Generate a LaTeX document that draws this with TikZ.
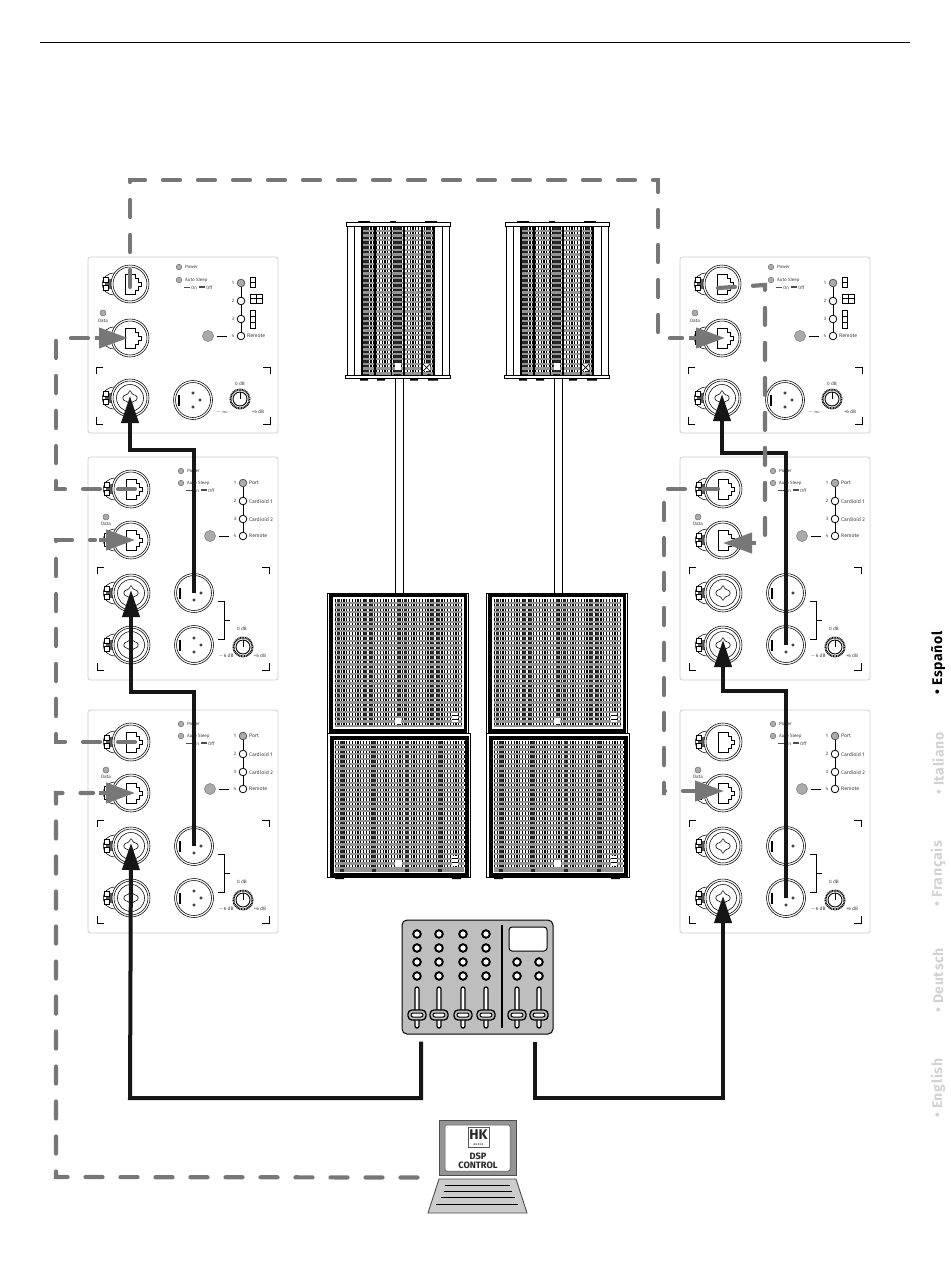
\documentclass[tikz,border=0pt]{standalone}
\usepackage{fontspec}
\setmainfont{Fira Sans}
\usetikzlibrary{arrows.meta,calc}
\definecolor{wireG}{HTML}{777777}
\definecolor{wireK}{HTML}{161616}
\definecolor{ledG}{HTML}{ABABAB}
\definecolor{mixG}{HTML}{BEBEBE}
\definecolor{sideG}{HTML}{D2D2D2}
\tikzset{
  x=1pt,y=-1pt,
  plate/.style={draw=black!20,line width=.8pt,fill=white,rounded corners=2.5pt},
  thinl/.style={draw=black,line width=.55pt},
  medl/.style={draw=black,line width=.9pt},
  lbl/.style={font=\fontsize{4.6}{5}\selectfont,inner sep=0pt,anchor=west,text=black!75},
  slbl/.style={font=\fontsize{5.2}{5.5}\selectfont,inner sep=0pt,anchor=west,text=black!75},
  clbl/.style={font=\fontsize{4.8}{5}\selectfont,inner sep=0pt,anchor=center,text=black!75},
  led/.style={draw=black!55,line width=.5pt,fill=ledG},
  blackwire/.style={draw=wireK,line width=4pt,-{Triangle[length=27pt,width=17pt]}},
  graywire/.style={draw=wireG,line width=4.2pt,line cap=round,dash pattern=on 17pt off 18pt},
  grayhead/.style={draw=wireG,line width=4.2pt,-{Triangle[length=29pt,width=20pt]}},
  side/.style={font=\bfseries\fontsize{14}{14}\addfontfeature{LetterSpace=5}\selectfont,rotate=90,inner sep=0pt,anchor=west,text=sideG},
}
% latch
\newcommand{\latch}[2]{%
  \draw[thinl,fill=white] (#1-15,#2-11) .. controls (#1-32,#2-11) and (#1-32,#2+11) .. (#1-15,#2+11);
  \fill[black!65] (#1-25,#2-5) rectangle (#1-17,#2+5);
  \draw[thinl,fill=white] (#1-27,#2-6.5) rectangle (#1-22,#2-1.5);
  \draw[thinl,fill=white] (#1-27,#2+1.5) rectangle (#1-22,#2+6.5);
}
\newcommand{\ringsC}[2]{%
  \draw[thinl,fill=white] (#1,#2) circle (19);
  \draw[thinl] (#1,#2) circle (17);
}
\newcommand{\etherC}[3]{%
  \latch{#2}{#3}\ringsC{#2}{#3}
  \coordinate (#1) at (#2,#3);
  \begin{scope}[shift={(#2,#3)}]
    \draw[thinl] (-5,-10)--(5,-10)--(5,-6)--(8,-6)--(8,-2)--(11,-2)--(11,2)--(8,2)--(8,6)--(5,6)--(5,10)--(-5,10)--cycle;
  \end{scope}
}
\newcommand{\comboC}[3]{%
  \latch{#2}{#3}\ringsC{#2}{#3}
  \coordinate (#1) at (#2,#3);
  \begin{scope}[shift={(#2,#3)}]
    \draw[thinl] (0,0) circle (13.5);
    \draw[thinl,rounded corners=1pt] (0,-8)--(2,-4)--(7,-2)--(7,2)--(2,4)--(0,8)--(-2,4)--(-7,2)--(-7,-2)--(-2,-4)--cycle;
  \end{scope}
}
\newcommand{\xlrMale}[3]{%
  \coordinate (#1) at (#2,#3);
  \draw[thinl,fill=white] (#2,#3) circle (19.5);
  \draw[thinl] (#2,#3) circle (17.5);
  \begin{scope}[shift={(#2,#3)}]
    \draw[thinl,fill=white] (-15,-5) rectangle (-13.5,5);
    \draw[thinl] (0,-7) circle (1.2) (7,0) circle (1.2) (0,7) circle (1.2);
  \end{scope}
}
\newcommand{\knobC}[2]{%
  \draw[draw=black,line width=2pt,dash pattern=on .9pt off .7pt] (#1,#2) circle (9.5);
  \draw[medl,fill=white] (#1,#2) circle (7);
  \draw[thinl] (#1,#2-7)--(#1,#2);
}
\newcommand{\selector}[2]{% x of circles, name
  \draw[medl] (#1,26)--(#1,79);
  \draw[led,draw=black!70,line width=.7pt] (#1,26) circle (3.8);
  \draw[thinl,line width=.8pt,fill=white] (#1,44) circle (3.8);
  \draw[thinl,line width=.8pt,fill=white] (#1,62) circle (3.8);
  \draw[thinl,line width=.8pt,fill=white] (#1,79) circle (3.8);
  \draw[led] (#1-33,79) circle (5.5);
  \draw[medl] (#1-24,79)--(#1-14,79);
  \node[clbl] (#2-n1) at (#1-8,26) {1};
  \node[clbl] (#2-n2) at (#1-8,44) {2};
  \node[clbl] (#2-n3) at (#1-8,62) {3};
  \node[clbl] (#2-n4) at (#1-8,79) {4};
  \node[slbl] (#2-rem) at (#1+6,79) {Remote};
}
\newcommand{\onoff}[3]{%
  \fill[black!70] (#2,#3-1.5) rectangle ++(6,1.6);
  \node[lbl] (#1-on) at (#2+7,#3) {On};
  \fill[black!70] (#2+15,#3-2) rectangle ++(6,1.6);
  \node[lbl] (#1-off) at (#2+22,#3) {Off};
}
\newcommand{\panelA}[3]{%
  \begin{scope}[shift={(#2,#3)}]
    \draw[plate] (0,0) rectangle (190,176);
    \etherC{#1-e1}{42}{27}
    \etherC{#1-e2}{42}{81}
    \comboC{#1-c1}{42}{141}
    \xlrMale{#1-x1}{105}{143}
    \knobC{152}{142}
    \draw[led] (91,10) circle (2.8);
    \draw[led] (91,23) circle (2.8);
    \draw[led] (15,56) circle (3);
    \node[lbl] (#1-pow) at (97,10) {Power};
    \node[lbl] (#1-auto) at (97,23) {Auto Sleep};
    \onoff{#1}{96}{31}
    \node[clbl] (#1-data) at (15,64) {Data};
    \selector{153}{#1}
    \draw[thinl,line width=.9pt] (162,20) rectangle (167,25) (162,25) rectangle (167,30);
    \draw[thinl,line width=.9pt] (162,37) rectangle (168,41.5) (162,41.5) rectangle (168,46) (168,37) rectangle (174,41.5) (168,41.5) rectangle (174,46);
    \draw[thinl,line width=.9pt] (162,53) rectangle (167,59) (162,59) rectangle (167,65) (162,65) rectangle (167,71);
    \draw[medl] (8,117)--(8,110)--(15,110);
    \draw[medl] (182,117)--(182,110)--(175,110);
    \draw[medl] (8,160)--(8,167)--(15,167);
    \draw[medl] (182,160)--(182,167)--(175,167);
    \node[clbl] (#1-k0) at (152,127) {0 dB};
    \node[clbl] (#1-k1) at (134,155) {$-\infty$};
    \node[clbl] (#1-k2) at (170,155) {+6 dB};
  \end{scope}
}
\newcommand{\panelB}[3]{%
  \begin{scope}[shift={(#2,#3)}]
    \draw[plate] (0,0) rectangle (190,223);
    \etherC{#1-e1}{43}{32}
    \etherC{#1-e2}{43}{83}
    \comboC{#1-c1}{43}{136}
    \comboC{#1-c2}{43}{188}
    \xlrMale{#1-x1}{106}{136}
    \xlrMale{#1-x2}{106}{188}
    \knobC{155}{190}
    \draw[led] (93,14) circle (2.8);
    \draw[led] (93,26) circle (2.8);
    \draw[led] (18,60) circle (3);
    \node[lbl] (#1-pow) at (99,14) {Power};
    \node[lbl] (#1-auto) at (99,26) {Auto Sleep};
    \onoff{#1}{98}{34}
    \node[clbl] (#1-data) at (18,67) {Data};
    \selector{155}{#1}
    \node[slbl] (#1-t1) at (161,26) {Port};
    \node[slbl] (#1-t2) at (161,44) {Cardioid 1};
    \node[slbl] (#1-t3) at (161,62) {Cardioid 2};
    \draw[medl] (9,117)--(9,110)--(16,110);
    \draw[medl] (181,117)--(181,110)--(174,110);
    \draw[medl] (9,206)--(9,213)--(16,213);
    \draw[medl] (181,206)--(181,213)--(174,213);
    \draw[medl] (130,144)--(136,144)--(136,182)--(130,182) (136,163)--(142,163);
    \node[clbl] (#1-k0) at (154,172) {0 dB};
    \node[clbl] (#1-k1) at (138,199) {$-$6 dB};
    \node[clbl] (#1-k2) at (172,199) {+6 dB};
  \end{scope}
}
% grille: x0 y0 x1 y1
\newcommand{\rowsG}[4]{%
  \fill[black!42] (#1,#2) rectangle (#3,#4);
  \pgfmathsetmacro{\rowsN}{int((#4-#2-3)/4.75)}
  \foreach \r in {0,...,\rowsN}{
    \pgfmathsetmacro{\ry}{#2+1.3+\r*4.75}
    \draw[white,line width=2.5pt] (#1,\ry)--(#3,\ry);
    \draw[black,line width=2.5pt,dash pattern=on 1.1pt off 1.7pt] (#1,\ry)--(#3,\ry);
  }
}
\newcommand{\colG}[4]{% x, y0, y1, width
  \draw[black!85,line width=#4pt,dash pattern=on 2.5pt off 2.25pt] (#1,#2)--(#1,#3);
}
\newcommand{\subTop}[1]{%
  \begin{scope}[shift={(#1,0)}]
    \draw[black,line width=.7pt] (327,593) rectangle (468,733);
    \fill[white] (332,597) rectangle (464,729);
    \rowsG{335}{599}{462}{727}
    \colG{338}{599}{727}{3}\colG{365}{599}{727}{3}\colG{371}{599}{727}{3}\colG{398}{599}{727}{3}\colG{405}{599}{727}{3}\colG{432}{599}{727}{3}\colG{438}{599}{727}{3}
    \draw[black,line width=3.6pt] (331,595.5) rectangle (465.5,731);
    \fill[white] (395,718) rectangle (401,724);
    \fill[white] (452,713) rectangle (458,722);
    \draw[black,line width=.9pt] (452,715.5)--(458,715.5) (452,719)--(458,719);
  \end{scope}
}
\newcommand{\subLow}[1]{%
  \begin{scope}[shift={(#1,0)}]
    \draw[black,line width=.7pt] (327,733) rectangle (470,877);
    \fill[white] (333,739) rectangle (466,874);
    \rowsG{335}{741}{464}{872}
    \colG{342}{741}{872}{3.5}\colG{374}{741}{872}{3.5}\colG{407}{741}{872}{3.5}\colG{440}{741}{872}{3.5}
    \draw[black,line width=3.6pt] (332,737.8) rectangle (467,875);
    \fill[white] (395,860) rectangle (402,867);
    \fill[white] (452,856) rectangle (458,866);
    \draw[black,line width=.9pt] (452,858.5)--(458,858.5) (452,862.5)--(458,862.5);
    \fill[black] (335,877) rectangle (344,879) (452,877) rectangle (461,879);
  \end{scope}
}
\newcommand{\topSpk}[1]{%
  \begin{scope}[shift={(#1,0)}]
    \draw[medl] (395.5,378)--(395.5,594) (403,378)--(403,594);
    \rowsG{362}{227}{434}{375}
    \colG{366}{227}{375}{6}\colG{397.5}{227}{375}{7}\colG{429}{227}{375}{4}
    \draw[black,line width=1.8pt] (375,227)--(375,375) (391.5,227)--(391.5,375) (404,227)--(404,375) (422,227)--(422,375);
    \draw[black,line width=1.4pt] (362,227)--(362,375) (434,227)--(434,375);
    \draw[medl] (347,227)--(347,375) (354,227)--(354,375) (442,227)--(442,375) (449,227)--(449,375);
    \draw[medl,fill=white] (346,222.5) rectangle (450,226);
    \draw[medl,fill=white] (345.5,375.5) rectangle (450.5,378.5);
    \fill[black] (358,221) rectangle (370,222.5) (390,221) rectangle (396,222.5) (425,221) rectangle (437,222.5);
    \fill[black] (360,378.5) rectangle (368,380.5) (377,378.5) rectangle (385,380.5) (410,378.5) rectangle (418,380.5) (428,378.5) rectangle (438,380.5);
    \fill[white] (394.5,363) rectangle (401,370);
    \fill[white] (423,364) rectangle (430,371);
    \draw[black,line width=.7pt] (423,364)--(430,371) (423,371)--(430,364);
  \end{scope}
}
\begin{document}
\begin{tikzpicture}
\useasboundingbox (0,0) rectangle (950,1279);
\fill[white] (0,0) rectangle (950,1279);
\draw[black,line width=1pt] (40,43)--(910,43);
% panels
\panelA{La}{88}{257}
\panelB{Lb}{88}{457}
\panelB{Lc}{88}{710}
\panelA{Ra}{680}{257}
\panelB{Rb}{680}{457}
\panelB{Rc}{680}{710}
% speakers
\topSpk{0}
\topSpk{159}
\subTop{0}
\subTop{159}
\subLow{0}
\subLow{159}
% mixer
\node[draw=black,line width=1pt,fill=mixG,rounded corners=5pt,minimum width=151pt,minimum height=114pt,inner sep=0pt] (mixer) at (477.5,977) {};
\foreach \kx in {417,439,463,486}{
  \foreach \ky in {934,948,962,976}{
    \draw[black,line width=1.9pt,fill=white] (\kx,\ky) circle (3.8);
  }
}
\foreach \kx in {517,539}{
  \foreach \ky in {962,976}{
    \draw[black,line width=1.9pt,fill=white] (\kx,\ky) circle (3.8);
  }
}
\draw[black,line width=2.6pt] (502,925)--(502,1028);
\draw[black,line width=1pt,fill=white,rounded corners=3pt] (509,927) rectangle (547,951);
\foreach \fx in {417,439,463,486,517,539}{
  \draw[black,line width=1.3pt,fill=white,rounded corners=2pt] (\fx-2,987) rectangle (\fx+2,1028);
  \draw[black,line width=1.3pt,fill=mixG,rounded corners=4pt] (\fx-9,1010) rectangle (\fx+9,1020);
  \draw[black,line width=1pt,fill=white,rounded corners=2pt] (\fx-6,1013) rectangle (\fx+6,1017);
}
% laptop
\node[draw=black!70,line width=1pt,fill=black!42,minimum width=77pt,minimum height=55pt,inner sep=0pt] (screen) at (477.5,1147.5) {};
\node[draw=black!70,line width=.5pt,fill=white,rounded corners=2pt,minimum width=65pt,minimum height=46pt,inner sep=0pt] (pane) at (477.5,1148) {};
\node[draw=black!65,line width=.6pt,minimum width=21pt,minimum height=20pt,inner sep=0pt] (logobox) at (478.5,1137) {};
\node[inner sep=0pt,font=\bfseries\fontsize{14}{14}\selectfont,text=black!85] (hk) at (478.5,1135) {HK};
\node[inner sep=0pt,font=\bfseries\fontsize{2.6}{3}\selectfont,text=black!80] (audio) at (478.5,1144.5) {A U D I O};
\node[inner sep=0pt,font=\bfseries\fontsize{9.2}{8.6}\selectfont,text=black!85,align=center] (dsp) at (478,1161) {DSP\\CONTROL};
\draw[draw=black!70,line width=.9pt,fill=black!20] (439,1179)--(516,1179)--(527,1213)--(428,1213)--cycle;
\draw[black,line width=.8pt] (445,1185)--(510,1185) (444,1191)--(512,1191) (441,1197)--(515,1197) (436,1204)--(518,1204);
% black wires
\coordinate (busL) at (130,1098);
\coordinate (busR) at (723,1098);
\draw[blackwire] ([xshift=-56.5pt,yshift=-7pt]mixer.south) |- (busL) -- ([yshift=3pt]Lc-c1);
\draw[blackwire] ([xshift=57.5pt,yshift=-7pt]mixer.south) |- (busR) -- ([yshift=2pt]Rc-c2);
\coordinate (lbendb) at (131,692);
\coordinate (lbenda) at (130,450);
\coordinate (rbendb) at (723,691);
\coordinate (rbenda) at (722,453);
\draw[blackwire] (Lc-x1) |- (lbendb) -- ([yshift=3pt]Lb-c1);
\draw[blackwire] (Lb-x1) |- (lbenda) -- ([yshift=2pt]La-c1);
\draw[blackwire] (Rc-x2) |- (rbendb) -- ([yshift=5pt]Rb-c2);
\draw[blackwire] (Rb-x2) |- (rbenda) -- ([yshift=4pt]Ra-c1);
% gray wires
\coordinate (gTopR) at (658,180);
\coordinate (gL1) at (56,338);
\coordinate (gL2) at (56,540);
\coordinate (gBL) at (56,1177);
\coordinate (gR1) at (765,285);
\coordinate (gR2) at (664,795);
\draw[graywire] ([yshift=-3pt]La-e1) |- (gTopR) |- ([xshift=-40pt]Ra-e2);
\draw[grayhead] ([xshift=-33pt]Ra-e2) -- ([xshift=3pt]Ra-e2);
\draw[graywire] ([xshift=4pt]Lb-e1) -| (gL1) -- ([xshift=-39pt]La-e2);
\draw[grayhead] ([xshift=-35pt]La-e2) -- ([xshift=-2pt]La-e2);
\draw[graywire] ([xshift=4pt]Lc-e1) -| (gL2) -- ([xshift=-36pt]Lb-e2);
\draw[grayhead] ([xshift=-32pt]Lb-e2) -- ([xshift=4pt]Lb-e2);
\draw[graywire] ([xshift=-21pt,yshift=-2pt]screen.south west) -- (gBL) |- ([xshift=-38pt]Lc-e2);
\draw[grayhead] ([xshift=-32pt]Lc-e2) -- ([xshift=4pt]Lc-e2);
\draw[graywire] ([xshift=-4pt,yshift=-4pt]Ra-e1) -- (gR1) |- ([xshift=33pt,yshift=-2pt]Rb-e2);
\draw[grayhead] ([xshift=33pt,yshift=-3pt]Rb-e2) -- ([yshift=-3pt]Rb-e2);
\draw[graywire,dash phase=2pt] ([xshift=-5pt]Rb-e1) -| (gR2) |- ([xshift=-30pt,yshift=2pt]Rc-e2);
\draw[grayhead] ([xshift=-35pt,yshift=2pt]Rc-e2) -- ([xshift=1pt,yshift=2pt]Rc-e2);
% side index
\node[side,text=black] (s1) at (938,695) {• Español};
\node[side] (s2) at (938,795) {• Italiano};
\node[side] (s3) at (938,907) {• Français};
\node[side] (s4) at (938,1013) {• Deutsch};
\node[side] (s5) at (938,1118) {• English};
\end{tikzpicture}
\end{document}
